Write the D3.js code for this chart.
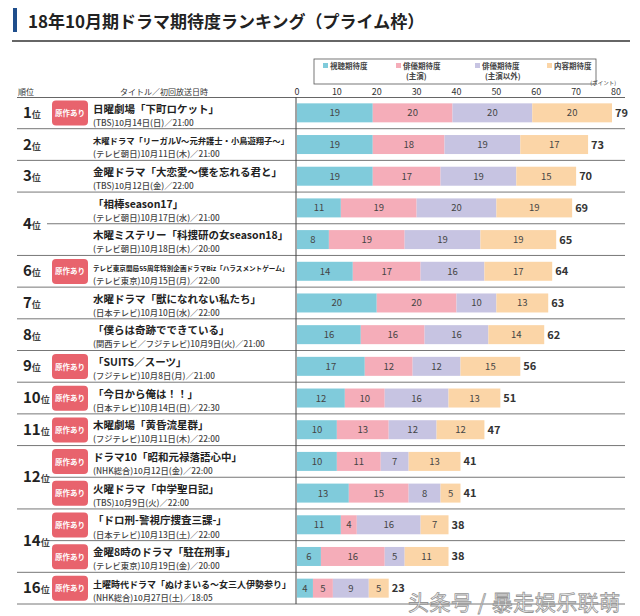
<!DOCTYPE html>
<html><head><meta charset="utf-8">
<script src="https://cdn.jsdelivr.net/npm/d3@7"></script>
<style>body{margin:0;background:#fff}svg{display:block}text{font-family:"Noto Sans CJK JP","Noto Sans",sans-serif}</style>
</head><body>
<script>
const chartTitle = "18年10月期ドラマ期待度ランキング（プライム枠）";
const seriesNames = ["視聴期待度", "俳優期待度", "俳優期待度", "内容期待度"];
const seriesSub = ["", "(主演)", "(主演以外)", ""];
const titles = ["日曜劇場「下町ロケット」","木曜ドラマ「リーガルV～元弁護士・小鳥遊翔子～」","金曜ドラマ「大恋愛～僕を忘れる君と」","「相棒season17」","木曜ミステリー「科捜研の女season18」","テレビ東京開局55周年特別企画ドラマBiz「ハラスメントゲーム」","水曜ドラマ「獣になれない私たち」","「僕らは奇跡でできている」","「SUITS／スーツ」","「今日から俺は！！」","木曜劇場「黄昏流星群」","ドラマ10「昭和元禄落語心中」","火曜ドラマ「中学聖日記」","「ドロ刑-警視庁捜査三課-」","金曜8時のドラマ「駐在刑事」","土曜時代ドラマ「ぬけまいる～女三人伊勢参り」"];
const airInfo = ["(TBS)10月14日(日)／21:00","(テレビ朝日)10月11日(木)／21:00","(TBS)10月12日(金)／22:00","(テレビ朝日)10月17日(水)／21:00","(テレビ朝日)10月18日(木)／20:00","(テレビ東京)10月15日(月)／22:00","(日本テレビ)10月10日(水)／22:00","(関西テレビ／フジテレビ)10月9日(火)／21:00","(フジテレビ)10月8日(月)／21:00","(日本テレビ)10月14日(日)／22:30","(フジテレビ)10月11日(木)／22:00","(NHK総合)10月12日(金)／22:00","(TBS)10月9日(火)／22:00","(日本テレビ)10月13日(土)／22:00","(テレビ東京)10月19日(金)／20:00","(NHK総合)10月27日(土)／18:05"];
const original = [1,0,0,0,0,1,0,0,1,1,1,1,1,1,1,1];
const viewing = [19,19,19,11,8,14,20,16,17,12,10,10,13,11,6,4];
const leadActor = [20,18,17,19,19,17,20,16,12,10,13,11,15,4,16,5];
const supportActor = [20,19,19,20,19,16,10,16,12,16,12,7,8,16,5,9];
const content = [20,17,15,19,19,17,13,14,15,13,12,13,5,7,11,5];
const totals = [79,73,70,69,65,64,63,62,56,51,47,41,41,38,38,23];
const ranks = [{r:"1",s:0,n:1},{r:"2",s:1,n:1},{r:"3",s:2,n:1},{r:"4",s:3,n:2},{r:"6",s:5,n:1},{r:"7",s:6,n:1},{r:"8",s:7,n:1},{r:"9",s:8,n:1},{r:"10",s:9,n:1},{r:"11",s:10,n:1},{r:"12",s:11,n:2},{r:"14",s:13,n:2},{r:"16",s:15,n:1}];
const tickValues = [0,10,20,30,40,50,60,70,80];
const colors = ["#80cbdb","#f5adb9","#c7c4e2","#fbd5a7"];

const W=640,H=616;
const svg=d3.select("body").append("svg").attr("width",W).attr("height",H);
const x=d3.scaleLinear().domain([0,80]).range([297,616]);
const y=d3.scaleBand().domain(d3.range(16)).range([97,604]);
const bh=19;

// title
svg.append("rect").attr("x",13).attr("y",8).attr("width",4).attr("height",24).attr("fill","#1f4e8c");
svg.append("text").attr("x",28).attr("y",28).attr("font-size",17).attr("font-weight","bold").attr("fill","#222").text(chartTitle);
svg.append("line").attr("x1",12).attr("x2",630).attr("y1",41).attr("y2",41).attr("stroke","#333").attr("stroke-width",1.5);

// legend
svg.append("rect").attr("x",314).attr("y",59).attr("width",282).attr("height",25).attr("fill","none").attr("stroke","#555").attr("stroke-width",0.8);
const lx=[323,396,475,547];
seriesNames.forEach((n,i)=>{
  svg.append("rect").attr("x",lx[i]).attr("y",63).attr("width",5).attr("height",5).attr("fill",colors[i]);
  svg.append("text").attr("x",lx[i]+7).attr("y",69).attr("font-size",7.5).attr("font-weight","bold").attr("fill","#444").text(n);
  if(seriesSub[i]) svg.append("text").attr("x",lx[i]+10).attr("y",79).attr("font-size",7.5).attr("font-weight","bold").attr("fill","#444").text(seriesSub[i]);
});
svg.append("text").attr("x",616).attr("y",85).attr("text-anchor","end").attr("font-size",5.5).attr("fill","#333").text("(ポイント)");

// header
svg.append("text").attr("x",18).attr("y",95).attr("font-size",8).attr("fill","#333").text("順位");
svg.append("text").attr("x",120).attr("y",95).attr("font-size",8).attr("fill","#333").text("タイトル／初回放送日時");
svg.selectAll(".tk").data(tickValues).enter().append("text").attr("x",d=>x(d)).attr("y",95).attr("text-anchor","middle").attr("font-size",9).attr("fill","#333").text(d=>d);
svg.append("line").attr("x1",17).attr("x2",625).attr("y1",97.5).attr("y2",97.5).attr("stroke","#666").attr("stroke-width",1);

// row separators
d3.range(16).forEach(i=>{
  const yy=y(i)+y.bandwidth();
  const inner=ranks.some(r=>r.n>1 && i>=r.s && i<r.s+r.n-1);
  svg.append("line").attr("x1",inner?47:17).attr("x2",625).attr("y1",yy).attr("y2",yy).attr("stroke","#777").attr("stroke-width",1);
});
svg.append("line").attr("x1",296).attr("x2",296).attr("y1",97).attr("y2",604).attr("stroke","#444").attr("stroke-width",1);

// ranks
ranks.forEach(r=>{
  const cy=y(r.s)+y.bandwidth()*r.n/2;
  const t=svg.append("text").attr("x",23).attr("y",cy+5).attr("fill","#222");
  t.append("tspan").attr("font-size",15).attr("font-weight","bold").text(r.r);
  t.append("tspan").attr("font-size",9).attr("font-weight","bold").attr("fill","#444").text("位");
});

// fit text into a max width by shrinking its font size
function fitText(sel, size, maxW){
  sel.attr("font-size",size);
  const w=sel.node().getComputedTextLength();
  if(w>maxW) sel.attr("font-size",Math.floor(size*maxW/w*10)/10);
}

// titles and badges
d3.range(16).forEach(i=>{
  const top=y(i);
  if(original[i]){
    svg.append("rect").attr("x",52).attr("y",top+3.5).attr("width",36).attr("height",25).attr("rx",4).attr("fill","#e8636d");
    svg.append("text").attr("x",70).attr("y",top+19).attr("text-anchor","middle").attr("font-size",7.5).attr("font-weight","bold").attr("fill","#fff").text("原作あり");
  }
  const t1=svg.append("text").attr("x",93).attr("y",top+15.5).attr("font-weight","bold").attr("fill","#222").text(titles[i]);
  fitText(t1,10.5,198);
  const t2=svg.append("text").attr("x",93).attr("y",top+28.6).attr("font-weight","500").attr("fill","#444").text(airInfo[i]);
  fitText(t2,8.3,190);
});

// bars
const series=[viewing,leadActor,supportActor,content];
d3.range(16).forEach(i=>{
  let acc=0;
  const cy=y(i)+y.bandwidth()/2;
  series.forEach((s,k)=>{
    const v=s[i];
    svg.append("rect").attr("x",x(acc)).attr("y",cy-bh/2).attr("width",x(acc+v)-x(acc)).attr("height",bh).attr("fill",colors[k]);
    svg.append("text").attr("x",(x(acc)+x(acc+v))/2).attr("y",cy+3.5).attr("text-anchor","middle").attr("font-size",9.5).attr("fill","#444").text(v);
    acc+=v;
  });
  svg.append("text").attr("x",x(acc)+3).attr("y",cy+4).attr("font-size",11).attr("font-weight","bold").attr("fill","#333").text(totals[i]);
});

// watermark
svg.append("text").attr("x",408).attr("y",610).attr("font-size",21).attr("letter-spacing",0.5).attr("fill","#fff").attr("stroke","#8a8a8a").attr("stroke-width",0.8).attr("opacity",0.9).text("头条号 / 暴走娱乐联萌");
</script>
</body></html>
